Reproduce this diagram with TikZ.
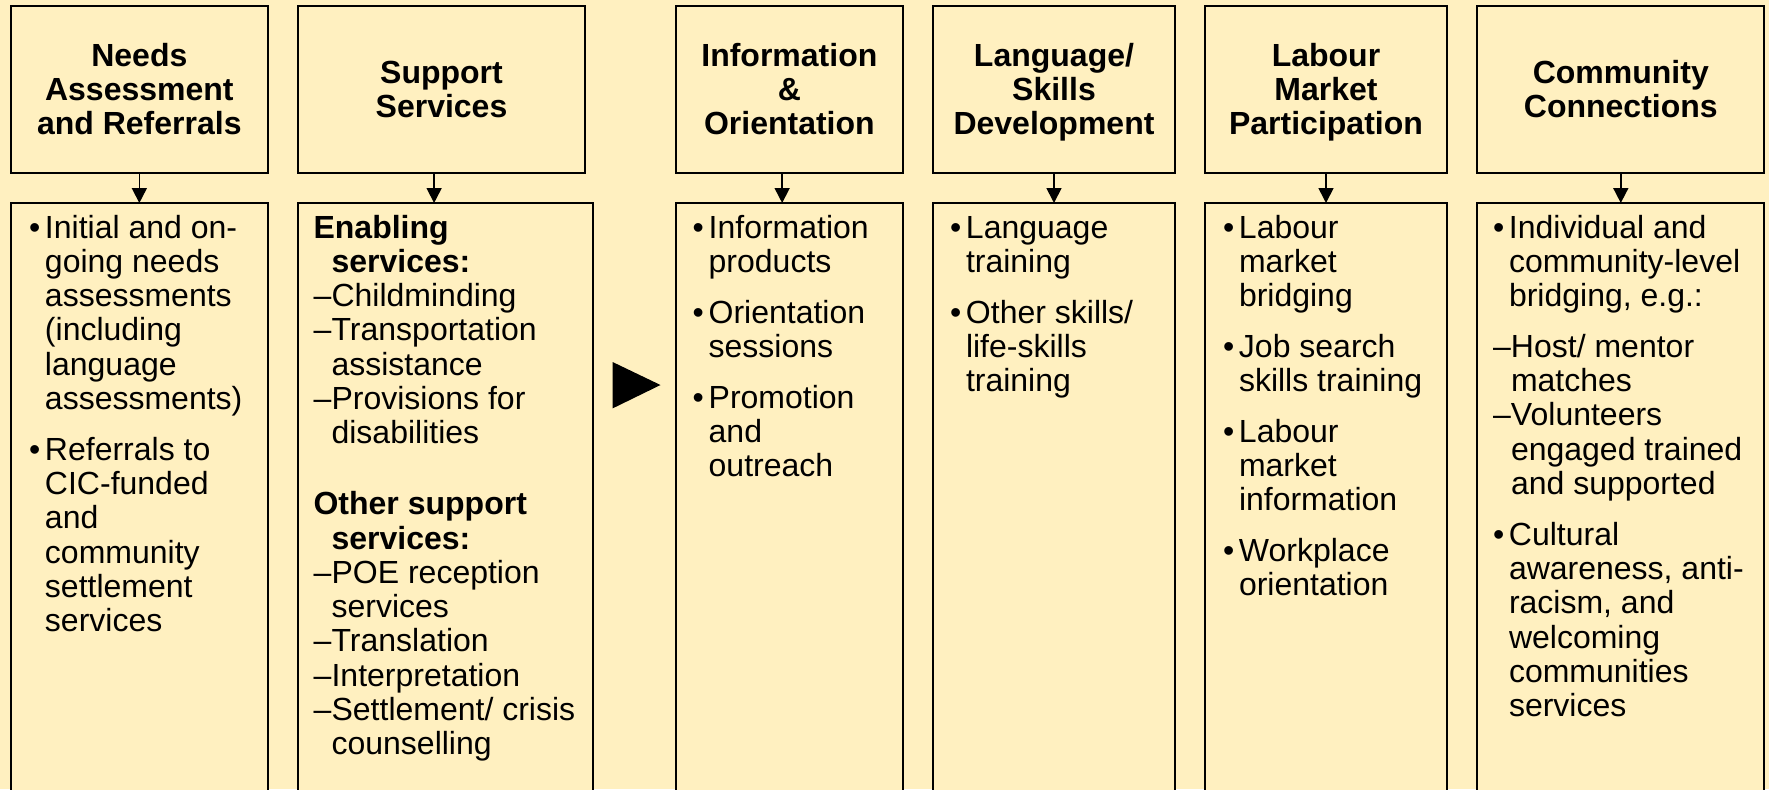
\documentclass[tikz,border=0pt]{standalone}
\usepackage{fontspec}
\setmainfont{Liberation Sans}
\usetikzlibrary{arrows.meta}
\definecolor{bg}{RGB}{255,240,192}
\newcommand\bl{\makebox[8pt][l]{•}}
\newcommand\ind{\hspace*{8pt}}
\newcommand\dsh{\makebox[9pt][l]{–}}
\newcommand\dind{\hspace*{9pt}}
\begin{document}
\begin{tikzpicture}[x=0.5pt,y=-0.5pt,
  hdr/.style={draw, line width=1pt, fill=bg, outer sep=0pt, inner sep=0pt,
    anchor=north west, align=center, minimum height=83.25pt, text depth=0pt,
    font=\fontsize{16pt}{17pt}\selectfont\bfseries},
  bodybox/.style={draw, line width=1pt, fill=bg, outer sep=0pt, inner sep=0pt,
    anchor=north west, minimum height=300pt},
  txt/.style={anchor=base west, inner sep=0pt, outer sep=0pt,
    font=\fontsize{16pt}{17.15pt}\selectfont},
  arr/.style={line width=0.85pt, -{Triangle[width=7.5pt,length=7.5pt]}}]
\useasboundingbox (0,0) rectangle (1769,789);
\fill[bg] (0,0) rectangle (1769,789);
\clip (0,0) rectangle (1769,789);

% headers
\node[hdr, minimum width=128.65pt] (h1) at (10.7,6) {Needs\\Assessment\\and Referrals};
\node[hdr, minimum width=143.8pt] (h2) at (297.7,6) {Support\\Services};
\node[hdr, minimum width=113.35pt] (h3) at (676,6) {Information\\\&\\Orientation};
\node[hdr, minimum width=121.3pt] (h4) at (932.7,6) {Language/\\Skills\\Development};
\node[hdr, minimum width=120.7pt] (h5) at (1205.3,6) {Labour\\Market\\Participation};
\node[hdr, minimum width=143.5pt] (h6) at (1477.3,6) {Community\\Connections};

% bodies
\node[bodybox, minimum width=128.65pt] (b1) at (10.7,203) {};
\node[bodybox, minimum width=147.8pt] (b2) at (297.7,203) {};
\node[bodybox, minimum width=113.35pt] (b3) at (676,203) {};
\node[bodybox, minimum width=121.3pt] (b4) at (932.7,203) {};
\node[bodybox, minimum width=120.7pt] (b5) at (1205.3,203) {};
\node[bodybox, minimum width=143.5pt] (b6) at (1477.3,203) {};

% connectors
\draw[arr] (h1.south) -- (b1.north);
\draw[arr] ([xshift=-3.7pt]h2.south) -- ([xshift=-3.7pt]h2.south |- b2.north);
\draw[arr] ([xshift=-3.6pt]h3.south) -- ([xshift=-3.6pt]h3.south |- b3.north);
\draw[arr] (h4.south) -- (b4.north);
\draw[arr] (h5.south) -- (b5.north);
\draw[arr] (h6.south) -- (b6.north);

% triangle
\fill[black] (612.6,362) -- (660.5,385) -- (612.6,408.4) -- cycle;

% body texts
\node[txt] (t1) at (29,238) {\begin{tabular}[t]{@{}l@{}}
\bl Initial and on-\\
\ind going needs\\
\ind assessments\\
\ind (including\\
\ind language\\
\ind assessments)\\[8.2pt]
\bl Referrals to\\
\ind CIC-funded\\
\ind and\\
\ind community\\
\ind settlement\\
\ind services
\end{tabular}};

\node[txt] (t2) at (313.6,238) {\begin{tabular}[t]{@{}l@{}}
\textbf{Enabling}\\
\dind\textbf{services:}\\
\dsh Childminding\\
\dsh Transportation\\
\dind assistance\\
\dsh Provisions for\\
\dind disabilities\\[18.3pt]
\textbf{Other support}\\
\dind\textbf{services:}\\
\dsh POE reception\\
\dind services\\
\dsh Translation\\
\dsh Interpretation\\
\dsh Settlement/ crisis\\
\dind counselling
\end{tabular}};

\node[txt] (t3) at (692.7,238) {\begin{tabular}[t]{@{}l@{}}
\bl Information\\
\ind products\\[8.2pt]
\bl Orientation\\
\ind sessions\\[8.2pt]
\bl Promotion\\
\ind and\\
\ind outreach
\end{tabular}};

\node[txt] (t4) at (950,238) {\begin{tabular}[t]{@{}l@{}}
\bl Language\\
\ind training\\[8.2pt]
\bl Other skills/\\
\ind life-skills\\
\ind training
\end{tabular}};

\node[txt] (t5) at (1223,238) {\begin{tabular}[t]{@{}l@{}}
\bl Labour\\
\ind market\\
\ind bridging\\[8.2pt]
\bl Job search\\
\ind skills training\\[8.2pt]
\bl Labour\\
\ind market\\
\ind information\\[8.2pt]
\bl Workplace\\
\ind orientation
\end{tabular}};

\node[txt] (t6) at (1493,238) {\begin{tabular}[t]{@{}l@{}}
\bl Individual and\\
\ind community-level\\
\ind bridging, e.g.:\\[8.2pt]
\dsh Host/ mentor\\
\dind matches\\
\dsh Volunteers\\
\dind engaged trained\\
\dind and supported\\[8.2pt]
\bl Cultural\\
\ind awareness, anti-\\
\ind racism, and\\
\ind welcoming\\
\ind communities\\
\ind services
\end{tabular}};
\end{tikzpicture}
\end{document}
